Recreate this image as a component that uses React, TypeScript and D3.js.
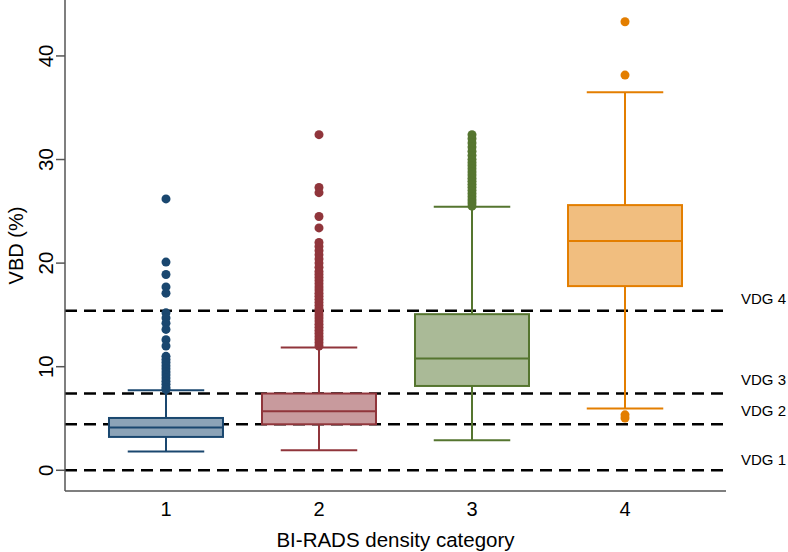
import React from "react";
import * as d3 from "d3";

const categories = [1, 2, 3, 4];
const lowerWhisker = [1.81, 1.93, 2.9, 5.96];
const q1 = [3.22, 4.44, 8.14, 17.78];
const median = [4.13, 5.7, 10.79, 22.13];
const q3 = [5.05, 7.41, 15.07, 25.6];
const upperWhisker = [7.73, 11.85, 25.44, 36.5];

const outliers1 = [26.2, 20.1, 18.9, 17.7, 17.1, 15.2, 14.7, 14.2, 13.6, 12.6, 12.0, 11.0, 10.7, 10.4, 10.1, 9.8, 9.5, 9.2, 8.9, 8.6, 8.3, 8.0, 7.8];
const outliers2 = [32.4, 27.3, 26.8, 24.5, 23.4, 22.0, 21.6, 21.2, 20.8, 20.4, 20.0, 19.6, 19.2, 18.9, 18.6, 18.3, 18.0, 17.7, 17.4, 17.1, 16.8, 16.5, 16.2, 15.9, 15.6, 15.3, 15.0, 14.7, 14.4, 14.1, 13.8, 13.5, 13.2, 12.9, 12.6, 12.3, 12.0];
const outliers3 = [32.4, 32.0, 31.6, 31.2, 30.8, 30.4, 30.0, 29.7, 29.4, 29.1, 28.8, 28.5, 28.2, 27.9, 27.6, 27.3, 27.0, 26.7, 26.4, 26.1, 25.8, 25.5];
const outliers4 = [43.3, 38.15, 5.35, 5.05];
const outliers = [outliers1, outliers2, outliers3, outliers4];

const strokeColors = ["#1a476f", "#90353b", "#55752f", "#e37e00"];
const fillColors = ["#8ca3b7", "#c89a9d", "#aaba97", "#f1be7f"];

const yTicks = [0, 10, 20, 30, 40];
const vdgValues = [0, 4.45, 7.42, 15.4];
const vdgLabels = ["VDG 1", "VDG 2", "VDG 3", "VDG 4"];
const vdgLabelValues = [1.0, 5.75, 8.8, 16.6];

const xTitle = "BI-RADS density category";
const yTitle = "VBD (%)";

export default function App() {
  const W = 788;
  const H = 552;
  const left = 65;
  const right = 726;
  const top = 0;
  const bottom = 491;

  const y = d3.scaleLinear().domain([-2, 45.4]).range([bottom, top]);
  const x = d3.scaleLinear().domain([0.34, 4.66]).range([left, right]);
  const step = x(2) - x(1);
  const boxW = step * 0.745;
  const capW = step * 0.5;
  const font = "'Liberation Sans', Arial, sans-serif";

  return (
    <svg
      width={W}
      height={H}
      style={{ position: "absolute", left: 0, top: 0, background: "#fff" }}
      fontFamily={font}
    >
      <rect x={0} y={0} width={W} height={H} fill="#fff" />
      {/* dashed reference lines */}
      {vdgValues.map((v, i) => (
        <line
          key={i}
          x1={left}
          x2={right}
          y1={y(v)}
          y2={y(v)}
          stroke="#000"
          strokeWidth={2.5}
          strokeDasharray="12,7"
        />
      ))}
      {categories.map((c, i) => {
        const cx = x(c);
        const sc = strokeColors[i];
        return (
          <g key={c}>
            <line x1={cx} x2={cx} y1={y(q3[i])} y2={y(upperWhisker[i])} stroke={sc} strokeWidth={2} />
            <line x1={cx} x2={cx} y1={y(q1[i])} y2={y(lowerWhisker[i])} stroke={sc} strokeWidth={2} />
            <line x1={cx - capW / 2} x2={cx + capW / 2} y1={y(upperWhisker[i])} y2={y(upperWhisker[i])} stroke={sc} strokeWidth={2} />
            <line x1={cx - capW / 2} x2={cx + capW / 2} y1={y(lowerWhisker[i])} y2={y(lowerWhisker[i])} stroke={sc} strokeWidth={2} />
            <rect
              x={cx - boxW / 2}
              y={y(q3[i])}
              width={boxW}
              height={y(q1[i]) - y(q3[i])}
              fill={fillColors[i]}
              stroke={sc}
              strokeWidth={2}
            />
            <line x1={cx - boxW / 2} x2={cx + boxW / 2} y1={y(median[i])} y2={y(median[i])} stroke={sc} strokeWidth={2} />
            {outliers[i].map((v, j) => (
              <circle key={j} cx={cx} cy={y(v)} r={4.5} fill={sc} />
            ))}
          </g>
        );
      })}
      {vdgLabels.map((t, i) => (
        <text key={t} x={741} y={y(vdgLabelValues[i])} dominantBaseline="central" fontSize={15} fill="#000">
          {t}
        </text>
      ))}
      {/* axes */}
      <line x1={left} x2={left} y1={top} y2={bottom} stroke="#555" strokeWidth={1.5} />
      <line x1={left} x2={right} y1={bottom} y2={bottom} stroke="#555" strokeWidth={1.5} />
      {yTicks.map((t) => (
        <g key={t}>
          <line x1={left - 9} x2={left} y1={y(t)} y2={y(t)} stroke="#555" strokeWidth={1.5} />
          <text
            transform={`translate(${53},${y(t)}) rotate(-90)`}
            textAnchor="middle"
            fontSize={20.5}
            fill="#000"
          >
            {t}
          </text>
        </g>
      ))}
      {categories.map((c) => (
        <text key={c} x={x(c)} y={515.5} textAnchor="middle" fontSize={20} fill="#000">
          {c}
        </text>
      ))}
      <text x={(left + right) / 2} y={546.5} textAnchor="middle" fontSize={20.5} fill="#000">
        {xTitle}
      </text>
      <text
        transform={`translate(${23},${(top + bottom) / 2}) rotate(-90)`}
        textAnchor="middle"
        fontSize={20}
        fill="#000"
      >
        {yTitle}
      </text>
    </svg>
  );
}
